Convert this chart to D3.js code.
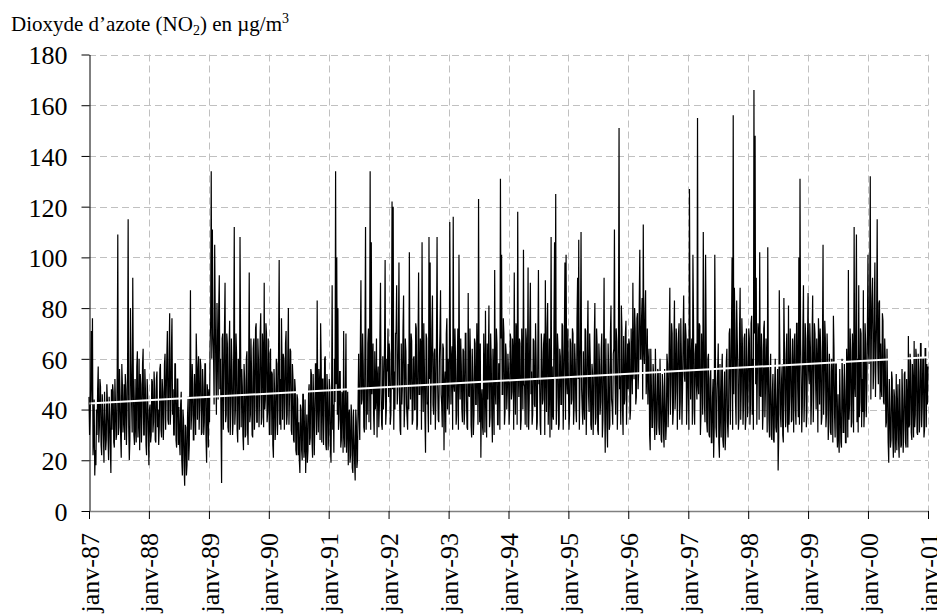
<!DOCTYPE html>
<html><head><meta charset="utf-8">
<script src="https://cdn.jsdelivr.net/npm/d3@7"></script>
<style>body{margin:0;background:#fff}svg{display:block}</style>
</head><body><svg id="c" width="937" height="615"></svg>
<script>
// weekly readings (µg/m3), one pair of arrays per year:
// no2_YYYY = reading at the start of each week, mid_YYYY = reading in the middle of the same week
const no2_1987 = [45,38,71,76, 28,14,18,30, 57,33,49,22,40, 19,36,28,43, 20,38,15,32,47, 25,42,30,109, 33,45,21,50,36, 28,48,38,115, 20,80,42,92,30, 52,27,63,35, 24,50,37,64, 30,48,22,45];
const mid_1987 = [30,52,42,22, 44,24,40,48, 27,52,26,46,30, 47,24,50,29, 45,25,48,50,27, 52,28,55,30, 56,29,58,31,50, 54,26,57,33, 28,58,31,53,26, 33,57,29,60, 54,27,58,30, 56,26,52,31];
const no2_1988 = [18,42,30,51, 35,48,27,55, 40,33,58,29,47, 37,62,45,71, 34,78,40,76,48, 30,58,25,52, 41,22,47,14,36, 10,33,18,45, 26,87,38,50,28, 44,70,36,61, 42,57,31,49, 35,58,19,46];
const mid_1988 = [40,27,52,31, 55,28,52,33, 26,56,32,52,28, 58,32,60,36, 62,34,64,38,30, 58,28,52,26, 28,42,20,40,17, 34,14,38,20, 52,32,58,28,54, 30,58,55,32, 60,30,56,30, 58,28,50,25];
const no2_1989 = [48,65,134,111, 62,105,55,82, 44,93,60,11,70, 47,90,38,66, 31,75,42,58,35, 112,40,62,27, 56,108,33,49,24, 52,30,63,26, 94,38,55,29,68, 41,74,35,60, 46,78,37,63, 90,44,70,39];
const mid_1989 = [35,75,60,70, 42,76,38,66, 80,48,34,68,32, 72,35,70,33, 64,30,68,30,62, 34,70,32,60, 32,66,56,30,58, 29,60,32,56, 35,68,30,64,32, 72,35,68,33, 70,34,70,33, 40,74,35,68];
const no2_1990 = [45,62,30,54, 21,48,34,58, 40,99,52,76,36, 60,42,71,38, 80,45,63,30,52, 27,48,22,44, 35,15,40,20,46, 25,15,38,24, 50,29,54,21,42, 36,58,83,31, 49,74,27,52, 38,61,24,47];
const mid_1990 = [30,64,55,26, 56,28,60,30, 64,34,32,58,62, 32,66,34,62, 34,64,32,58,28, 52,24,46,22, 20,42,24,46,21, 44,28,19,46, 26,56,28,54,22, 58,30,42,56, 28,58,52,26, 60,26,54,24];
const no2_1991 = [30,48,19,89, 42,60,134,100, 80,36,55,28,45, 71,25,70,33, 18,40,22,37,15, 30,12,35,20, 62,28,91,44,58, 31,112,48,66, 35,134,106,52,38, 63,45,29,57, 41,90,34,61, 48,99,39,55];
const mid_1991 = [52,25,43,32, 23,43,50,38, 32,55,25,47,23, 30,45,23,47, 38,19,42,17,40, 19,40,17,42, 37,66,42,70,33, 68,32,38,72, 56,32,46,66,30, 40,68,52,33, 70,46,32,40, 66,34,60,72];
const no2_1992 = [45,62,38,122, 120,55,70,89, 48,98,32,66,50, 85,41,63,37, 58,102,44,67,36, 61,40,72,34, 94,46,65,106,39, 57,23,68,43, 108,98,52,85,38, 64,45,108,36, 59,87,42,66, 24,55,70,40];
const mid_1992 = [66,34,58,48, 32,40,70,42, 68,44,30,42,72, 33,68,42,32, 40,54,70,34,60, 40,74,32,64, 46,68,32,52,74, 37,70,42,31, 52,34,72,42,62, 32,68,50,35, 70,46,33,64, 50,31,76,60];
const no2_1993 = [50,114,42,65, 116,47,60,38, 72,101,44,58,35, 63,40,70,33, 86,45,61,29,52, 38,66,42,57, 123,35,21,48,30, 55,79,29,44, 81,37,60,27,50, 95,42,66,34, 58,131,101,46, 70,39,62,48];
const mid_1993 = [38,70,60,32, 50,72,34,58, 32,54,68,40,64, 34,70,44,32, 46,72,34,64,30, 68,42,74,34, 50,66,44,33,70, 31,46,66,58, 33,70,38,64,30, 48,72,34,58, 32,68,46,76, 34,66,40,62];
const no2_1994 = [55,40,68,47, 62,94,38,71, 118,45,66,36,58, 103,49,72,33, 96,44,90,55,38, 67,41,60,35, 95,52,30,63,44, 70,91,39,82, 48,29,108,57,36, 106,125,45,64, 34,61,42,73, 50,98,101,46];
const mid_1994 = [34,70,44,68, 32,52,74,34, 56,68,32,72,40, 50,34,68,58, 32,72,46,34,68, 42,74,32,64, 50,34,70,42,66, 30,56,72,34, 68,50,32,38,74, 52,34,70,32, 64,42,74,32, 68,36,52,72];
const no2_1995 = [52,38,66,44, 70,41,58,35, 92,107,47,110,40, 63,36,71,45, 83,39,60,32,54, 42,82,37,65, 30,58,43,70,36, 92,23,48,25, 56,34,81,41,62, 111,38,67,46, 151,53,81,40, 69,44,75,50];
const mid_1995 = [32,68,42,72, 34,66,40,76, 52,32,70,48,34, 42,72,30,66, 46,70,34,58,30, 68,34,72,32, 66,38,64,29,58, 42,68,33,66, 32,70,44,34,64, 52,72,32,68, 48,34,72,30, 42,70,34,66];
const no2_1996 = [48,66,40,58, 90,52,72,45, 78,55,103,60,84, 113,58,87,54, 42,64,24,50,33, 53,28,47,36, 55,30,45,27,49, 25,41,34,58, 44,88,50,70,39, 83,47,66,52, 74,43,61,48, 85,51,69,45];
const mid_1996 = [68,36,72,46, 56,80,42,76, 48,82,60,76,44, 64,78,46,72, 58,30,64,33,58, 35,64,30,56, 33,60,28,54,31, 56,28,62,33, 68,38,74,34,66, 40,72,32,70, 36,76,34,70, 54,74,34,68];
const no2_1997 = [55,127,44,68, 101,40,62,50, 155,46,73,38,58, 110,42,101,35, 60,30,52,27,45, 21,101,33,48, 66,21,40,55,28, 46,24,59,35, 41,72,50,100, 156,88,43,83,56, 37,88,48,65, 42,70,36,58];
const mid_1997 = [32,72,60,34, 76,34,66,44, 50,74,30,70,38, 72,35,68,31, 62,29,56,27,52, 33,64,29,55, 27,58,29,62,25, 55,31,64,29, 70,34,72,32, 46,74,34,68,32, 72,36,76,34, 68,32,72,37];
const no2_1998 = [50,68,42,77, 60,166,148,92, 55,70,102,45,63, 40,75,48,58, 104,36,55,30,47, 28,50,33,44, 16,87,38,52,30, 84,42,62,35, 81,45,60,36,55, 67,40,74,48, 100,131,52,41, 89,46,68,39];
const mid_1998 = [72,34,74,38, 32,70,50,34, 74,36,46,70,32, 72,37,68,31, 58,29,62,28,54, 27,60,31,56, 29,62,33,58,27, 64,33,70,31, 34,72,35,68,31, 70,34,74,37, 34,68,31,72, 35,74,33,68];
const no2_1999 = [86,50,65,44, 85,48,70,40, 58,76,42,63,37, 105,49,68,38, 60,35,55,30,50, 77,38,58,33, 46,23,40,25,52, 31,48,27,55, 95,42,63,35,58, 112,45,109,60, 89,43,70,52, 87,40,66,48];
const mid_1999 = [55,74,34,70, 35,74,52,68, 31,68,72,34,66, 38,75,33,70, 28,62,31,60,27, 64,29,58,25, 29,56,27,60,31, 58,27,64,29, 36,72,33,70,31, 50,76,35,31, 37,72,33,39, 33,74,37,70];
const no2_2000 = [101,58,132,70, 92,55,98,62, 115,50,83,66,45, 75,42,60,35, 48,19,40,28,52, 21,45,30,24, 50,21,38,26,44, 32,55,25,42, 69,34,58,28,50, 67,38,60,30, 55,36,66,41, 60,32,64,58];
const mid_2000 = [62,82,44,84, 48,80,45,76, 60,82,44,48,78, 43,68,33,64, 27,52,25,55,29, 48,23,54,40, 27,52,25,56,23, 54,27,52,25, 33,62,31,58,29, 33,64,31,62, 31,66,33,60, 29,64,33,42];
const lastValue = 57; // 1 Jan 2001

const years = [1987,1988,1989,1990,1991,1992,1993,1994,1995,1996,1997,1998,1999,2000];
const weekStart = [no2_1987,no2_1988,no2_1989,no2_1990,no2_1991,no2_1992,no2_1993,no2_1994,no2_1995,no2_1996,no2_1997,no2_1998,no2_1999,no2_2000];
const weekMid = [mid_1987,mid_1988,mid_1989,mid_1990,mid_1991,mid_1992,mid_1993,mid_1994,mid_1995,mid_1996,mid_1997,mid_1998,mid_1999,mid_2000];

const xTickLabels = ["janv-87","janv-88","janv-89","janv-90","janv-91","janv-92","janv-93","janv-94","janv-95","janv-96","janv-97","janv-98","janv-99","janv-00","janv-01"];
const yTicks = [0,20,40,60,80,100,120,140,160,180];
const trendStart = 42.4, trendEnd = 60.6;

// build series
const series = [];
years.forEach((yr, i) => {
  const a = weekStart[i], b = weekMid[i];
  const t0 = new Date(yr,0,1).getTime(), t1 = new Date(yr+1,0,1).getTime();
  const n = a.length;
  a.forEach((v, k) => {
    series.push({date: new Date(t0 + (t1 - t0) * k / n), value: v});
    if (b[k] != null) series.push({date: new Date(t0 + (t1 - t0) * (k + 0.5) / n), value: b[k]});
  });
});
series.push({date: new Date(2001,0,1), value: lastValue});

const svg = d3.select("#c");
const FONT = "'Times New Roman','Liberation Serif',serif";
const x = d3.scaleTime().domain([new Date(1987,0,1), new Date(2001,0,1)]).range([89, 928]);
const y = d3.scaleLinear().domain([0,180]).range([511, 54.5]);
const tickDates = xTickLabels.map((_, i) => new Date(1987 + i, 0, 1));

// grid
const grid = svg.append("g").attr("stroke", "#c0c0c0").attr("stroke-width", 1).attr("stroke-dasharray", "7,4");
grid.selectAll("line.h").data(yTicks.slice(1)).join("line").attr("class","h")
  .attr("x1", 89).attr("x2", 928).attr("y1", d => Math.round(y(d)) + 0.5).attr("y2", d => Math.round(y(d)) + 0.5);
grid.selectAll("line.v").data(tickDates.slice(1)).join("line").attr("class","v")
  .attr("x1", d => Math.round(x(d)) + 0.5).attr("x2", d => Math.round(x(d)) + 0.5).attr("y1", y(180)).attr("y2", y(0));

// series line
const line = d3.line().x(d => x(d.date)).y(d => y(d.value));
svg.append("path").datum(series).attr("d", line).attr("fill", "none").attr("stroke", "#000").attr("stroke-width", 1.2).attr("stroke-linejoin", "miter").attr("stroke-miterlimit", 2);

// trend line
svg.append("path").datum([{date: new Date(1987,0,1), value: trendStart}, {date: new Date(2001,0,1), value: trendEnd}])
  .attr("d", line).attr("fill", "none").attr("stroke", "#fff").attr("stroke-width", 2);

// y axis
const ya = svg.append("g").attr("transform", "translate(89.5,0)")
  .call(d3.axisLeft(y).tickValues(yTicks).tickSize(8).tickSizeOuter(0).tickPadding(14));
ya.select(".domain").attr("stroke", "#000");
ya.selectAll(".tick line").attr("stroke", "#000");
ya.selectAll("text").attr("font-family", FONT).attr("font-size", 26).attr("fill", "#000").attr("dy", "0.36em");

// x axis
const xa = svg.append("g").attr("transform", "translate(0,511)")
  .call(d3.axisBottom(x).tickValues(tickDates).tickFormat((d, i) => xTickLabels[i]).tickSize(8).tickSizeOuter(0));
xa.select(".domain").attr("stroke", "#808080").attr("stroke-width", 1.5);
xa.selectAll(".tick line").attr("stroke", "#000");
xa.selectAll("text").attr("font-family", FONT).attr("font-size", 26).attr("fill", "#000")
  .attr("transform", "rotate(-90)").attr("x", -22).attr("y", 0).attr("dy", "0.35em").attr("text-anchor", "end");

// title
const title = svg.append("text").attr("x", 11).attr("y", 31).attr("font-family", FONT).attr("font-size", 21).attr("fill", "#000");
title.append("tspan").text("Dioxyde d’azote (NO");
title.append("tspan").attr("font-size", 14).attr("dy", 4).text("2");
title.append("tspan").attr("dy", -4).text(") en µg/m");
title.append("tspan").attr("font-size", 14).attr("dy", -8).text("3");
</script></body></html>
